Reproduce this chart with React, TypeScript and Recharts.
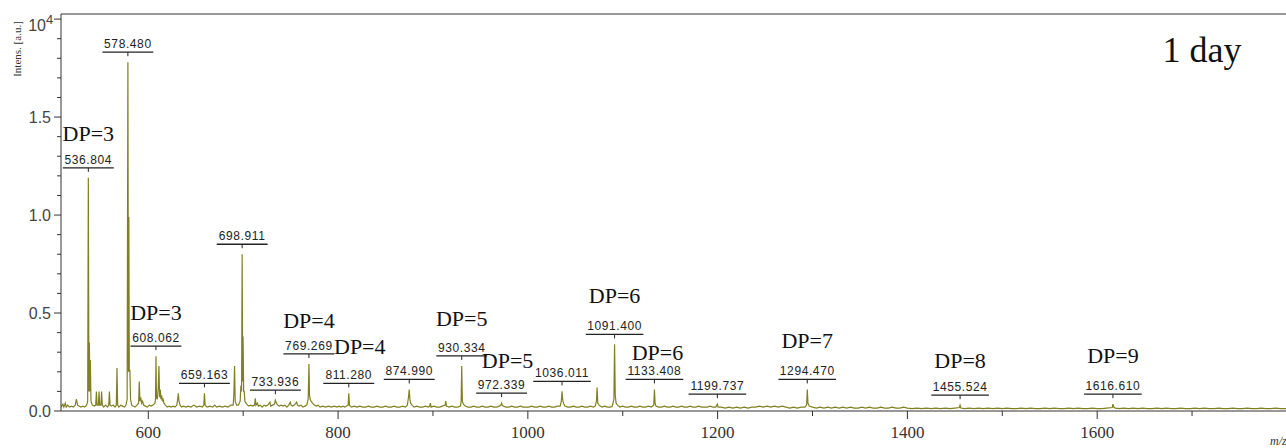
import { ComposedChart, Line, Scatter, XAxis, YAxis, ReferenceLine } from 'recharts'

// mass spectrum, intensity in units of 10^4
const spectrum: [number, number][] = [
  [508, 0.02], [510, 0.035], [511, 0.02], [512.5, 0.04], [513.5, 0.02], [515, 0.03], [517, 0.02], [519, 0.025],
  [521, 0.02], [523, 0.03], [524.2, 0.06], [525.5, 0.03], [527, 0.025], [529, 0.02], [531, 0.025], [533, 0.02],
  [535, 0.03], [536.1, 0.05], [536.8, 1.19], [537.4, 0.1], [537.9, 0.35], [538.4, 0.1], [538.9, 0.26], [539.6, 0.05],
  [541, 0.03], [543, 0.025], [544.6, 0.03], [545.3, 0.1], [546, 0.03], [547.4, 0.03], [548.1, 0.1], [548.8, 0.03],
  [550.1, 0.03], [550.8, 0.1], [551.5, 0.03], [553, 0.02], [555, 0.03], [557, 0.02], [558.3, 0.03], [559, 0.1],
  [559.7, 0.03], [561, 0.025], [563, 0.03], [565, 0.02], [566.3, 0.03], [567, 0.22], [567.7, 0.03], [569, 0.02],
  [571, 0.03], [573, 0.025], [575, 0.02], [576.5, 0.03], [577.7, 0.06], [578.5, 1.78], [579.1, 0.2], [579.5, 0.99],
  [580, 0.2], [580.6, 0.21], [581.3, 0.06], [582.5, 0.03], [584, 0.025], [586, 0.02], [588, 0.03], [589.8, 0.04],
  [590.5, 0.15], [591.2, 0.05], [592, 0.07], [593, 0.04], [594, 0.05], [595, 0.03], [597, 0.025], [599, 0.02],
  [601, 0.03], [603, 0.025], [605, 0.03], [607, 0.04], [607.6, 0.06], [608.1, 0.28], [608.6, 0.07], [609.5, 0.06],
  [610.5, 0.12], [611.2, 0.23], [611.9, 0.07], [612.6, 0.11], [613.3, 0.06], [614, 0.08], [614.8, 0.05], [615.6, 0.06],
  [616.5, 0.04], [618, 0.03], [620, 0.02], [622, 0.025], [624, 0.02], [626, 0.025], [628, 0.02], [630, 0.03],
  [631, 0.06], [631.6, 0.09], [632.3, 0.05], [633.5, 0.03], [635, 0.02], [637, 0.025], [640, 0.02],
  [642, 0.025], [645, 0.02], [648, 0.03], [651, 0.02], [654, 0.025], [657, 0.02], [658.5, 0.03], [659.2, 0.09],
  [659.9, 0.03], [662, 0.02], [665, 0.025], [668, 0.02], [670, 0.03], [672, 0.02], [675, 0.025], [678, 0.02],
  [681, 0.025], [684, 0.02], [687, 0.03], [689.5, 0.03], [690.3, 0.1], [690.9, 0.23], [691.6, 0.05], [693, 0.03],
  [695, 0.03], [696.8, 0.05], [697.6, 0.13], [698.3, 0.1], [698.9, 0.8], [699.5, 0.15], [699.9, 0.38], [700.5, 0.1],
  [701.1, 0.1], [701.8, 0.05], [703, 0.04], [704.5, 0.03], [706, 0.025], [708, 0.03], [710, 0.025], [712, 0.03],
  [712.8, 0.065], [713.5, 0.03], [715, 0.04], [716, 0.025], [718, 0.03], [720, 0.02], [722, 0.03], [724, 0.025],
  [726, 0.03], [728.2, 0.045], [729, 0.025], [731, 0.03], [733, 0.035], [733.9, 0.055], [735, 0.04], [736.5, 0.03],
  [738, 0.025], [740, 0.03], [742, 0.025], [744, 0.03], [746, 0.02], [748, 0.03], [749.6, 0.045], [750.5, 0.03],
  [752, 0.025], [754, 0.03], [756.3, 0.045], [757.2, 0.03], [759, 0.025], [761, 0.03], [763, 0.02], [765, 0.025],
  [767, 0.03], [768.5, 0.06], [769.3, 0.24], [769.9, 0.08], [770.6, 0.06], [771.5, 0.05], [773, 0.04], [775, 0.03],
  [777, 0.025], [779, 0.03], [781, 0.02], [784, 0.025], [787, 0.02], [790, 0.025], [793, 0.02], [796, 0.025],
  [799, 0.02], [801, 0.025], [803, 0.02], [805, 0.025], [807, 0.02], [809, 0.025], [810.6, 0.03], [811.3, 0.09],
  [812, 0.03], [814, 0.02], [817, 0.025], [820, 0.02], [823, 0.025], [826, 0.02], [829, 0.02], [832, 0.025],
  [835, 0.02], [838, 0.02], [841, 0.025], [844, 0.02], [847, 0.02], [850, 0.025], [853, 0.02], [856, 0.02],
  [859, 0.025], [862, 0.02], [865, 0.02], [868, 0.025], [871, 0.02], [873, 0.03], [874.2, 0.07], [875, 0.11],
  [875.7, 0.06], [876.5, 0.04], [878, 0.03], [880, 0.02], [883, 0.025], [886, 0.02], [889, 0.02], [892, 0.025],
  [895, 0.02], [896.5, 0.025], [897.3, 0.04], [898, 0.02], [901, 0.025], [904, 0.02], [907, 0.02], [910, 0.025],
  [912.8, 0.03], [913.5, 0.05], [914.2, 0.025], [917, 0.02], [920, 0.025], [923, 0.02], [926, 0.02], [929, 0.025],
  [929.7, 0.05], [930.3, 0.23], [931, 0.05], [932, 0.035], [934, 0.025], [937, 0.02], [940, 0.02], [943, 0.025],
  [946, 0.02], [949, 0.02], [952, 0.025], [955, 0.02], [958, 0.02], [961, 0.025], [964, 0.02], [967, 0.02],
  [970, 0.025], [971.6, 0.03], [972.3, 0.04], [973, 0.03], [974, 0.025], [977, 0.02], [980, 0.02], [983, 0.025],
  [986, 0.02], [989, 0.02], [992, 0.025], [995, 0.02], [998, 0.02], [1001, 0.02], [1004, 0.025], [1007, 0.02],
  [1010, 0.02], [1013, 0.025], [1016, 0.02], [1019, 0.02], [1022, 0.025], [1025, 0.02], [1028, 0.02], [1031, 0.025],
  [1034, 0.025], [1035.3, 0.05], [1036, 0.1], [1036.7, 0.06], [1037.5, 0.04], [1039, 0.025], [1042, 0.02], [1045, 0.02],
  [1048, 0.025], [1051, 0.02], [1054, 0.02], [1057, 0.025], [1060, 0.02], [1063, 0.02], [1066, 0.025], [1069, 0.02],
  [1071, 0.025], [1072.3, 0.05], [1073, 0.12], [1073.7, 0.04], [1075, 0.03], [1078, 0.02], [1081, 0.025], [1084, 0.02],
  [1087, 0.02], [1089, 0.025], [1090.7, 0.06], [1091.4, 0.34], [1092.1, 0.08], [1093, 0.04], [1094.5, 0.03], [1097, 0.02],
  [1100, 0.025], [1103, 0.02], [1106, 0.02], [1109, 0.025], [1112, 0.02], [1115, 0.02], [1118, 0.025], [1121, 0.02],
  [1124, 0.02], [1127, 0.025], [1130, 0.02], [1132.7, 0.03], [1133.4, 0.11], [1134.1, 0.04], [1135, 0.025], [1138, 0.02],
  [1141, 0.02], [1144, 0.025], [1147, 0.02], [1150, 0.02], [1153, 0.025], [1156, 0.02], [1159, 0.02], [1162, 0.025],
  [1165, 0.02], [1168, 0.02], [1171, 0.025], [1174, 0.02], [1177, 0.02], [1180, 0.025], [1183, 0.02], [1186, 0.02],
  [1189, 0.02], [1192, 0.025], [1195, 0.02], [1198, 0.02], [1199.7, 0.035], [1200.5, 0.02], [1204, 0.02], [1208, 0.015],
  [1212, 0.02], [1216, 0.015], [1220, 0.02], [1224, 0.015], [1228, 0.02], [1232, 0.015], [1236, 0.02], [1240, 0.02],
  [1244, 0.025], [1248, 0.02], [1252, 0.025], [1256, 0.02], [1260, 0.025], [1264, 0.02], [1268, 0.025], [1272, 0.02],
  [1276, 0.015], [1280, 0.02], [1284, 0.015], [1288, 0.02], [1292, 0.02], [1293.8, 0.03], [1294.5, 0.11], [1295.2, 0.04],
  [1296.5, 0.025], [1300, 0.02], [1304, 0.015], [1308, 0.02], [1312, 0.015], [1316, 0.02], [1320, 0.015], [1324, 0.02],
  [1328, 0.015], [1332, 0.02], [1336, 0.015], [1340, 0.02], [1344, 0.015], [1348, 0.015], [1352, 0.02], [1356, 0.015],
  [1360, 0.02], [1364, 0.015], [1368, 0.015], [1372, 0.02], [1376, 0.015], [1380, 0.015], [1384, 0.02], [1388, 0.015],
  [1392, 0.015], [1396, 0.02], [1400, 0.015], [1405, 0.012], [1410, 0.015], [1415, 0.012], [1420, 0.015], [1425, 0.012],
  [1430, 0.015], [1435, 0.012], [1440, 0.015], [1445, 0.012], [1450, 0.015], [1454.8, 0.018], [1455.5, 0.03], [1456.3, 0.015],
  [1460, 0.012], [1465, 0.015], [1470, 0.012], [1475, 0.015], [1480, 0.012], [1485, 0.015], [1490, 0.012], [1495, 0.015],
  [1500, 0.012], [1505, 0.015], [1510, 0.012], [1515, 0.012], [1520, 0.015], [1525, 0.012], [1530, 0.015], [1535, 0.012],
  [1540, 0.012], [1545, 0.015], [1550, 0.012], [1555, 0.015], [1560, 0.012], [1565, 0.012], [1570, 0.015], [1575, 0.012],
  [1580, 0.015], [1585, 0.012], [1590, 0.012], [1595, 0.015], [1600, 0.012], [1605, 0.012], [1610, 0.015], [1615.9, 0.018],
  [1616.6, 0.035], [1617.5, 0.02], [1619, 0.015], [1623, 0.012], [1628, 0.015], [1633, 0.012], [1638, 0.015], [1643, 0.012],
  [1648, 0.015], [1653, 0.012], [1658, 0.012], [1663, 0.015], [1668, 0.012], [1673, 0.015], [1678, 0.012], [1683, 0.012],
  [1688, 0.015], [1693, 0.012], [1698, 0.012], [1703, 0.015], [1708, 0.012], [1713, 0.015], [1718, 0.012], [1723, 0.012],
  [1728, 0.015], [1733, 0.012], [1738, 0.012], [1743, 0.015], [1748, 0.012], [1753, 0.012], [1758, 0.015], [1763, 0.012],
  [1768, 0.012], [1773, 0.015], [1778, 0.012], [1783, 0.012], [1788, 0.015], [1793, 0.012], [1799, 0.012],
]

// labelled peaks
const peakMz = [536.804, 578.48, 608.062, 659.163, 698.911, 733.936, 769.269, 811.28, 874.99, 930.334, 972.339, 1036.011, 1091.4, 1133.408, 1199.737, 1294.47, 1455.524, 1616.61]
const peakLabels = ['536.804', '578.480', '608.062', '659.163', '698.911', '733.936', '769.269', '811.280', '874.990', '930.334', '972.339', '1036.011', '1091.400', '1133.408', '1199.737', '1294.470', '1455.524', '1616.610']
const peakHeight = [1.19, 1.78, 0.28, 0.09, 0.8, 0.055, 0.24, 0.09, 0.11, 0.23, 0.04, 0.1, 0.34, 0.11, 0.035, 0.11, 0.03, 0.035]
const dpLabels = ['DP=3', '', 'DP=3', '', '', '', 'DP=4', 'DP=4', '', 'DP=5', 'DP=5', '', 'DP=6', 'DP=6', '', 'DP=7', 'DP=8', 'DP=9']

const xTicks = [600, 700, 800, 900, 1000, 1100, 1200, 1300, 1400, 1500, 1600, 1700]
const yTicks = [0, 0.1, 0.2, 0.3, 0.4, 0.5, 0.6, 0.7, 0.8, 0.9, 1.0, 1.1, 1.2, 1.3, 1.4, 1.5, 1.6, 1.7, 1.8, 1.9, 2.0]

// where the DP text sits relative to the peak top (layout only)
const dpOffset: Record<string, [number, number]> = {
  '536.804': [0, -45], '608.062': [0, -44], '769.269': [0, -44], '811.280': [11, -47],
  '930.334': [0, -48], '972.339': [6, -43], '1091.400': [0, -49], '1133.408': [3, -37],
  '1294.470': [0, -49], '1455.524': [0, -45], '1616.610': [0, -49],
}

const spectrumData = spectrum.map(([mz, v]) => ({ mz, v }))
const peakData = peakMz.map((mz, i) => ({ mz, v: peakHeight[i], label: peakLabels[i], dp: dpLabels[i] }))

const OLIVE = '#808022'
const SANS = "'Liberation Sans', Arial, sans-serif"
const SERIF = "'Liberation Serif', 'Times New Roman', serif"

const YTick = (props: any) => {
  const { x, y, payload } = props
  const v = payload.value
  const major = Math.abs(v * 2 - Math.round(v * 2)) < 1e-6
  if (v >= 1.99) {
    return (
      <g>
        <line x1={x - 7} x2={x} y1={y} y2={y} stroke="#333" />
        <text x={x - 15} y={y + 12} textAnchor="end" style={{ fontFamily: SANS, fontSize: 16 }} fill="#444">
          10
        </text>
        <text x={x - 15} y={y + 5} textAnchor="start" style={{ fontFamily: SANS, fontSize: 13 }} fill="#444">
          4
        </text>
      </g>
    )
  }
  return (
    <g>
      <line x1={x - (major ? 7 : 4)} x2={x} y1={y} y2={y} stroke="#333" />
      {major && (
        <text x={x - 10} y={y + 6} textAnchor="end" style={{ fontFamily: SANS, fontSize: 16 }} fill="#444">
          {v.toFixed(1)}
        </text>
      )}
    </g>
  )
}

const XTick = (props: any) => {
  const { x, y, payload } = props
  const major = payload.value % 200 === 0
  return (
    <g>
      <line x1={x} x2={x} y1={y} y2={y + (major ? 8 : 5)} stroke="#333" />
      {major && (
        <text x={x} y={y + 27} textAnchor="middle" style={{ fontFamily: SERIF, fontSize: 17 }} fill="#333">
          {payload.value}
        </text>
      )}
    </g>
  )
}

const PeakMark = (props: any) => {
  const { cx, cy, payload } = props
  const w = payload.label.length * 6.7 + 4
  const off = dpOffset[payload.label] || [0, -46]
  return (
    <g>
      <text
        x={cx}
        y={cy - 14}
        textAnchor="middle"
        style={{ fontFamily: SANS, fontSize: 12, letterSpacing: 0.6 }}
        fill="#222"
      >
        {payload.label}
      </text>
      <line x1={cx - w / 2} x2={cx + w / 2} y1={cy - 10} y2={cy - 10} stroke="#222" strokeWidth={1.3} />
      <line x1={cx} x2={cx} y1={cy - 10} y2={cy - 6} stroke="#222" />
      {payload.dp && (
        <text
          x={cx + off[0]}
          y={cy + off[1] + 8}
          textAnchor="middle"
          style={{ fontFamily: SERIF, fontSize: 22 }}
          fill="#111"
        >
          {payload.dp}
        </text>
      )}
    </g>
  )
}

export default function App() {
  return (
    <div style={{ position: 'absolute', left: 0, top: 0, width: 1286, height: 448, background: '#fff', overflow: 'hidden' }}>
      <ComposedChart width={1286} height={448} margin={{ top: 14, right: 0, bottom: 0, left: 0 }}>
        <XAxis
          type="number"
          dataKey="mz"
          domain={[508, 1799]}
          allowDataOverflow
          ticks={xTicks}
          tick={<XTick />}
          tickSize={0}
          tickMargin={0}
          height={37}
          stroke="#333"
          interval={0}
        />
        <YAxis
          type="number"
          dataKey="v"
          domain={[0, 2.026]}
          allowDataOverflow
          ticks={yTicks}
          tick={<YTick />}
          tickSize={0}
          tickMargin={0}
          width={61}
          stroke="#333"
          interval={0}
        />
        <ReferenceLine y={2.026} stroke="#333" />
        <Line
          data={spectrumData}
          dataKey="v"
          type="linear"
          stroke={OLIVE}
          strokeWidth={1.2}
          dot={false}
          isAnimationActive={false}
        />
        <Scatter data={peakData} dataKey="v" shape={<PeakMark />} isAnimationActive={false} />
        <text x={1202} y={62} textAnchor="middle" style={{ fontFamily: SERIF, fontSize: 36 }} fill="#111">
          1 day
        </text>
        <text x={1270} y={445} style={{ fontFamily: SERIF, fontStyle: 'italic', fontSize: 12 }} fill="#333">
          m/z
        </text>
        <text
          x={0}
          y={0}
          transform="translate(21,49) rotate(-90)"
          textAnchor="middle"
          style={{ fontFamily: SERIF, fontSize: 11 }}
          fill="#333"
        >
          Intens. [a.u.]
        </text>
      </ComposedChart>
    </div>
  )
}
